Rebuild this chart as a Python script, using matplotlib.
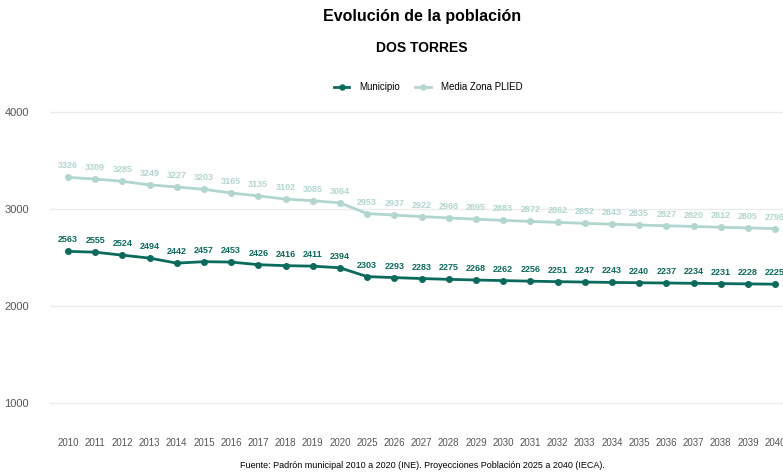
import matplotlib
matplotlib.use("Agg")
import matplotlib.pyplot as plt

plt.rcParams['font.family'] = ['Liberation Sans', 'DejaVu Sans']

years = ["2010", "2011", "2012", "2013", "2014", "2015", "2016", "2017", "2018", "2019", "2020",
         "2025", "2026", "2027", "2028", "2029", "2030", "2031", "2032", "2033", "2034", "2035",
         "2036", "2037", "2038", "2039", "2040"]
municipio = [2563, 2555, 2524, 2494, 2442, 2457, 2453, 2426, 2416, 2411, 2394,
             2303, 2293, 2283, 2275, 2268, 2262, 2256, 2251, 2247, 2243, 2240,
             2237, 2234, 2231, 2228, 2225]
media_zona = [3326, 3309, 3285, 3249, 3227, 3203, 3165, 3135, 3102, 3085, 3064,
              2953, 2937, 2922, 2908, 2895, 2883, 2872, 2862, 2852, 2843, 2835,
              2827, 2820, 2812, 2805, 2798]
yticks = [1000, 2000, 3000, 4000]

c_mun = "#0a6b5d"
c_med = "#b1d6cf"

W, H = 783, 475
fig = plt.figure(figsize=(W / 100, H / 100), dpi=100)
left, right, top, bottom = 50, 783, 95, 430
ax = fig.add_axes([left / W, 1 - bottom / H, (right - left) / W, (bottom - top) / H])

x = list(range(len(years)))
ax.plot(x, media_zona, color=c_med, lw=2, marker='o', ms=4, label="Media Zona PLIED", clip_on=False, zorder=3)
ax.plot(x, municipio, color=c_mun, lw=2, marker='o', ms=4, label="Municipio", clip_on=False, zorder=4)

for xi, v in zip(x, media_zona):
    ax.annotate(str(v), (xi, v), xytext=(0, 5), textcoords='offset points', ha='center', va='bottom',
                fontsize=6.5, fontweight='bold', color=c_med, annotation_clip=False)
for xi, v in zip(x, municipio):
    ax.annotate(str(v), (xi, v), xytext=(0, 5), textcoords='offset points', ha='center', va='bottom',
                fontsize=6.5, fontweight='bold', color=c_mun, annotation_clip=False)

ax.set_xlim(-0.66, 26.29)
ax.set_ylim(722, 4175)
ax.set_xticks(x)
ax.set_xticklabels(years)
ax.set_yticks(yticks)
ax.set_yticklabels([str(t) for t in yticks])
ax.tick_params(axis='both', length=0, labelsize=7, colors='#555555')
ax.tick_params(axis='y', pad=15, labelsize=8)
ax.tick_params(axis='x', pad=6)
ax.grid(axis='y', color='#ebebeb', lw=1)
ax.set_axisbelow(True)
for s in ax.spines.values():
    s.set_visible(False)

handles, labels = ax.get_legend_handles_labels()
fig.legend([handles[1], handles[0]], [labels[1], labels[0]], loc='center', bbox_to_anchor=(428 / W, 1 - 87 / H),
           ncol=2, frameon=False, fontsize=7, handlelength=1.6, handletextpad=1.0, columnspacing=1.6,
           markerscale=0.9)

fig.text(422 / W, 1 - 16 / H, "Evolución de la población", ha='center', va='center', fontsize=11.5, fontweight='bold')
fig.text(422 / W, 1 - 48 / H, "DOS TORRES", ha='center', va='center', fontsize=10, fontweight='bold')
fig.text(422 / W, 1 - 466 / H, "Fuente: Padrón municipal 2010 a 2020 (INE). Proyecciones Población 2025 a 2040 (IECA).",
         ha='center', va='center', fontsize=6.5)

fig.savefig("out.png", dpi=100)
